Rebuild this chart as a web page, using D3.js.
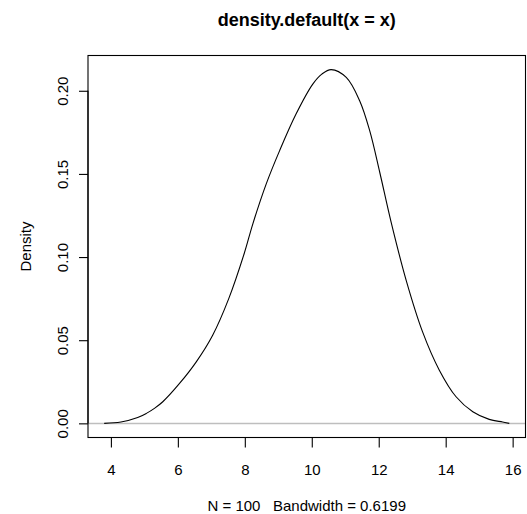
<!DOCTYPE html>
<html>
<head>
<meta charset="utf-8">
<script src="https://cdn.jsdelivr.net/npm/d3@7"></script>
<style>
  body { margin: 0; background: #fff; }
  text { font-family: "Liberation Sans", Arial, sans-serif; fill: #000; }
</style>
</head>
<body>
<div id="chart"></div>
<script>
// density estimate
var densityX = [3.80, 4.30, 4.80, 5.06, 5.30, 5.55, 6.05, 6.55, 7.04, 7.52, 7.98, 8.24,
  8.64, 9.04, 9.53, 10.03, 10.30, 10.58, 11.03, 11.43, 11.73, 12.03, 12.37, 12.82,
  13.31, 13.81, 14.31, 14.81, 15.30, 15.70, 15.90];
var densityY = [0, 0.0008, 0.0035, 0.006, 0.009, 0.013, 0.024, 0.037, 0.053, 0.075, 0.102, 0.120,
  0.144, 0.164, 0.186, 0.204, 0.210, 0.2127, 0.208, 0.194, 0.176, 0.151, 0.121, 0.086,
  0.055, 0.032, 0.016, 0.007, 0.0024, 0.0008, 0];

var xTicks = [4, 6, 8, 10, 12, 14, 16];
var yTicks = [0, 0.05, 0.10, 0.15, 0.20];

var titleText = "density.default(x = x)";
var subText = "N = 100   Bandwidth = 0.6199";
var yLabel = "Density";

var svgWidth = 527;
var svgHeight = 514;

var margin = { top: 55.5, right: 1.5, bottom: 76.5, left: 88 };
var chartWidth = svgWidth - margin.left - margin.right;
var chartHeight = svgHeight - margin.top - margin.bottom;

var svg = d3.select("#chart")
  .append("svg")
  .attr("width", svgWidth)
  .attr("height", svgHeight);

// R pads the data range by 4% on each side
var xr = d3.extent(densityX);
var xPad = (xr[1] - xr[0]) * 0.04;
var yMax = d3.max(densityY);
var yPad = yMax * 0.04;

var xScale = d3.scaleLinear()
  .domain([xr[0] - xPad, xr[1] + xPad])
  .range([margin.left, margin.left + chartWidth]);

var yScale = d3.scaleLinear()
  .domain([-yPad, yMax + yPad])
  .range([margin.top + chartHeight, margin.top]);

// zero line
svg.append("line")
  .attr("x1", margin.left)
  .attr("x2", margin.left + chartWidth)
  .attr("y1", Math.round(yScale(0)) + 0.5)
  .attr("y2", Math.round(yScale(0)) + 0.5)
  .attr("stroke", "#bebebe")
  .attr("stroke-width", 1.5);

var pts = densityX.map(function(x, i) { return [x, densityY[i]]; });

var line = d3.line()
  .x(function(d) { return xScale(d[0]); })
  .y(function(d) { return yScale(d[1]); })
  .curve(d3.curveCatmullRom.alpha(0.5));

svg.append("path")
  .datum(pts)
  .attr("d", line)
  .attr("fill", "none")
  .attr("stroke", "#000")
  .attr("stroke-width", 1.1);

// box
svg.append("rect")
  .attr("x", margin.left)
  .attr("y", margin.top)
  .attr("width", chartWidth)
  .attr("height", chartHeight)
  .attr("fill", "none")
  .attr("stroke", "#000")
  .attr("stroke-width", 1.1);

// axes
var xAxis = d3.axisBottom(xScale)
  .tickValues(xTicks)
  .tickSize(10)
  .tickPadding(17)
  .tickFormat(d3.format("d"));

var xAxisG = svg.append("g")
  .attr("transform", "translate(0," + (margin.top + chartHeight) + ")")
  .call(xAxis);

xAxisG.select(".domain")
  .attr("d", "M" + xScale(xTicks[0]) + ",0H" + xScale(xTicks[xTicks.length - 1]));

var yAxis = d3.axisLeft(yScale)
  .tickValues(yTicks)
  .tickSize(9)
  .tickFormat(d3.format(".2f"));

var yAxisG = svg.append("g")
  .attr("transform", "translate(" + margin.left + ",0)")
  .call(yAxis);

yAxisG.select(".domain")
  .attr("d", "M0," + yScale(yTicks[0]) + "V" + yScale(yTicks[yTicks.length - 1]));

yAxisG.selectAll(".tick text")
  .attr("x", null)
  .attr("dy", null)
  .attr("transform", "translate(-24,0) rotate(-90)")
  .attr("text-anchor", "middle")
  .attr("dominant-baseline", "middle");

svg.selectAll(".tick text")
  .style("font-family", "'Liberation Sans', Arial, sans-serif")
  .style("font-size", "15px");

svg.selectAll(".domain, .tick line")
  .attr("stroke", "#000")
  .attr("stroke-width", 1.1);

// titles
svg.append("text")
  .attr("x", margin.left + chartWidth / 2)
  .attr("y", 26)
  .attr("text-anchor", "middle")
  .style("font-size", "18px")
  .style("font-weight", "bold")
  .text(titleText);

svg.append("text")
  .attr("x", margin.left + chartWidth / 2)
  .attr("y", 511)
  .attr("text-anchor", "middle")
  .style("font-size", "15px")
  .style("white-space", "pre")
  .text(subText);

svg.append("text")
  .attr("transform", "translate(31," + (margin.top + chartHeight / 2) + ") rotate(-90)")
  .attr("text-anchor", "middle")
  .style("font-size", "15px")
  .text(yLabel);
</script>
</body>
</html>
